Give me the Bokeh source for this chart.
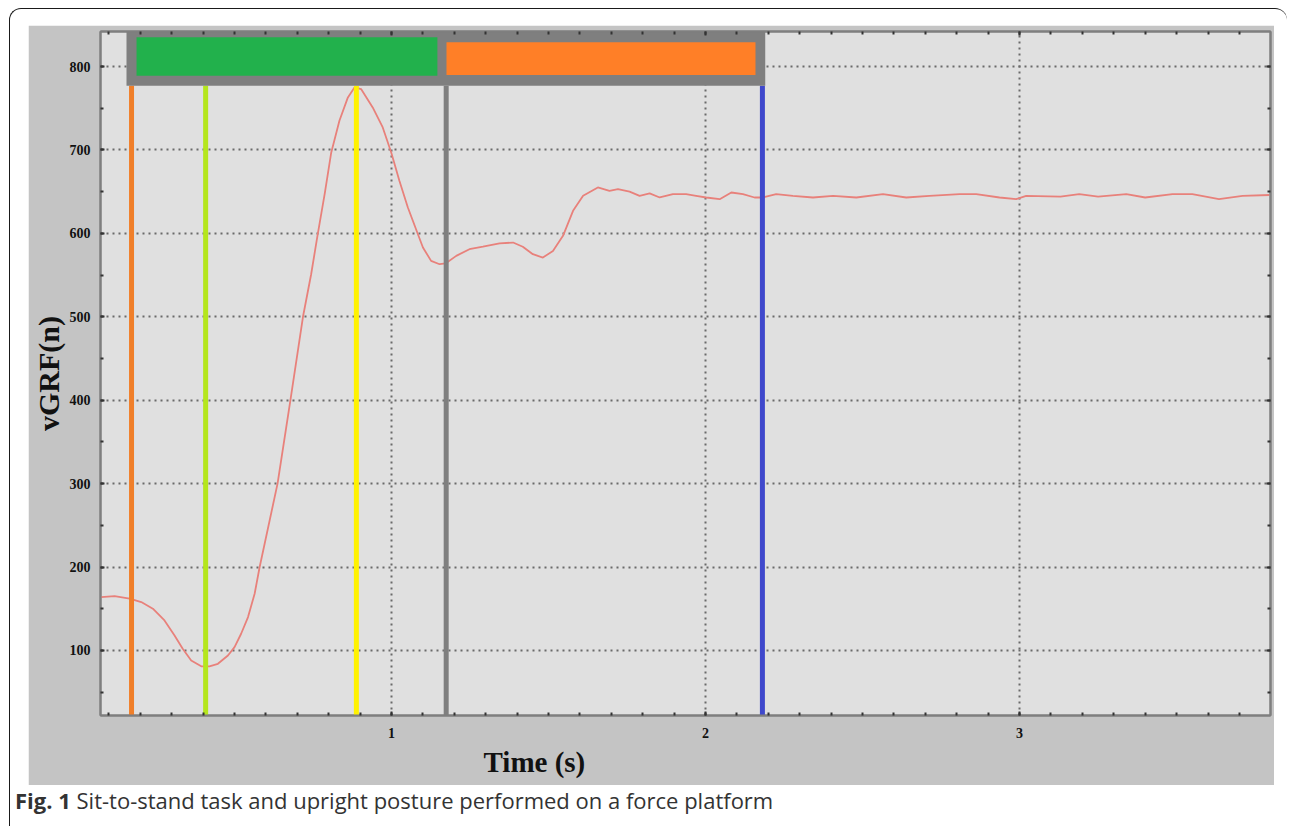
from bokeh.plotting import figure
from bokeh.models import FixedTicker, Title, Div, Range1d, ColumnDataSource, LinearAxis
from bokeh.layouts import column
from bokeh.embed import file_html
from bokeh.resources import INLINE

# ---------------- data ----------------
time_s = [0.075, 0.118, 0.166, 0.203, 0.240, 0.277, 0.309, 0.335, 0.362, 0.394,
          0.420, 0.447, 0.479, 0.500, 0.521, 0.543, 0.564, 0.580, 0.637, 0.678,
          0.718, 0.744, 0.765, 0.787, 0.808, 0.834, 0.861, 0.882, 0.903, 0.940,
          0.972, 0.999, 1.025, 1.052, 1.084, 1.100, 1.126, 1.153, 1.172, 1.206,
          1.248, 1.291, 1.344, 1.387, 1.418, 1.450, 1.482, 1.514, 1.546, 1.578,
          1.610, 1.657, 1.694, 1.721, 1.758, 1.790, 1.822, 1.854, 1.896, 1.938,
          1.970, 2.002, 2.045, 2.082, 2.119, 2.156, 2.183, 2.225, 2.278, 2.342,
          2.406, 2.480, 2.565, 2.639, 2.713, 2.809, 2.862, 2.936, 2.989, 3.021,
          3.130, 3.190, 3.250, 3.340, 3.400, 3.487, 3.550, 3.635, 3.710, 3.796]
vgrf_n = [164, 165, 162, 158, 150, 136, 118, 102, 88, 81,
          81, 84, 94, 104, 120, 140, 168, 200, 300, 400,
          500, 551, 599, 647, 697, 735, 763, 775, 773, 751,
          727, 697, 663, 631, 599, 583, 567, 563, 564, 573,
          581, 584, 588, 589, 584, 575, 571, 579, 597, 627,
          645, 655, 651, 653, 650, 645, 648, 643, 647, 647,
          645, 643, 641, 649, 647, 643, 643, 647, 645, 643,
          645, 643, 647, 643, 645, 647, 647, 643, 641, 645,
          644, 647, 644, 647, 643, 647, 647, 641, 645, 646]

# event markers (s)
event_times = [0.172, 0.408, 0.888, 1.174, 2.181]
event_colors = ["#f07f2a", "#b5e61d", "#fff200", "#7f7f7f", "#3f48cc"]

# phase bars (s / N)
phase_start = [0.188, 1.175]
phase_end = [1.146, 2.159]
phase_low = [789, 790]
phase_high = [835, 829]
phase_colors = ["#22b14c", "#ff7f27"]
frame_start = 0.156
frame_end = 2.190
frame_low = 777

x_ticks = [1, 2, 3]
y_ticks = [100, 200, 300, 400, 500, 600, 700, 800]

# ---------------- figure ----------------
X0, X1 = 0.0732, 3.799
Y0, Y1 = 22, 842

p = figure(width=1246, height=760, output_backend="svg", toolbar_location=None,
           x_range=Range1d(X0, X1), y_range=Range1d(Y0, Y1),
           min_border_left=72, min_border_right=4, min_border_top=6, min_border_bottom=70,
           background_fill_color="#e0e0e0", border_fill_color="#c4c4c4",
           outline_line_color="#7f7f7f", outline_line_width=2)
p.margin = (16, 0, 0, 18)

# grid
for g in (p.xgrid, p.ygrid):
    g.grid_line_color = "#6a6a6a"
    g.grid_line_dash = "2 4"
    g.grid_line_width = 2

x_ticker = FixedTicker(ticks=x_ticks, minor_ticks=[round(0.1 * i, 1) for i in range(1, 38)])
y_ticker = FixedTicker(ticks=y_ticks, minor_ticks=list(range(50, 851, 50)))

# mirrored tick marks on top and right edges (no labels)
top_ax = LinearAxis(ticker=x_ticker, major_label_text_font_size="1px", major_label_text_alpha=0,
                    major_label_standoff=0)
right_ax = LinearAxis(ticker=y_ticker, major_label_text_font_size="1px", major_label_text_alpha=0,
                      major_label_standoff=0)
p.add_layout(top_ax, "above")
p.add_layout(right_ax, "right")

# axes
p.xaxis.ticker = x_ticker
p.yaxis.ticker = y_ticker
for ax in (p.xaxis, p.yaxis):
    ax.axis_line_color = "#7f7f7f"
    ax.axis_line_width = 2
    ax.major_tick_in = 4
    ax.major_tick_out = 0
    ax.minor_tick_in = 3
    ax.minor_tick_out = 0
    ax.major_tick_line_color = "#333333"
    ax.major_tick_line_width = 2
    ax.minor_tick_line_color = "#333333"
    ax.minor_tick_line_width = 2
for ax in (p.below[0], p.left[0]):
    ax.major_label_text_font = "Liberation Serif"
    ax.major_label_text_font_style = "bold"
    ax.major_label_text_font_size = "14px"
    ax.major_label_text_color = "#111111"
p.left[0].major_label_standoff = 10
p.below[0].major_label_standoff = 12

p.left[0].axis_label = "vGRF(n)"
p.left[0].axis_label_text_font = "Liberation Serif"
p.left[0].axis_label_text_font_style = "bold"
p.left[0].axis_label_text_font_size = "30px"
p.left[0].axis_label_text_color = "#111111"
p.left[0].axis_label_standoff = 2

p.add_layout(Title(text="Time (s)", align="left", offset=383, text_font="Liberation Serif",
                   text_font_style="bold", text_font_size="29px", text_color="#111111",
                   standoff=7), "below")

# signal
p.line(time_s, vgrf_n, line_color="#e8817b", line_width=1.8)

# event lines
ev = ColumnDataSource(dict(t=event_times, c=event_colors,
                           y0=[Y0 - 10] * len(event_times), y1=[frame_low] * len(event_times)))
p.segment(x0="t", y0="y0", x1="t", y1="y1", line_color="c", line_width=5, source=ev)

# phase frame and bars
p.quad(left=[frame_start], right=[frame_end], bottom=[frame_low], top=[Y1 + 20],
       fill_color="#7f7f7f", line_color=None)
ph = ColumnDataSource(dict(l=phase_start, r=phase_end, b=phase_low, t=phase_high, c=phase_colors))
p.quad(left="l", right="r", bottom="b", top="t", fill_color="c", line_color=None, source=ph)

cap = Div(text='<b>Fig. 1</b> Sit-to-stand task and upright posture performed on a force platform',
          width=1200, margin=(0, 0, 0, 5),
          styles={"font-family": "'Open Sans'", "font-size": "22px", "color": "#333333"})

layout = column(p, cap, width=1278, height=818, margin=(8, 0, 0, 9),
                styles={"border-top": "1.5px solid #1a1a1a", "border-left": "1.5px solid #1a1a1a",
                        "border-top-left-radius": "12px", "border-top-right-radius": "12px"})

open("out.html", "w").write(file_html(layout, INLINE))
